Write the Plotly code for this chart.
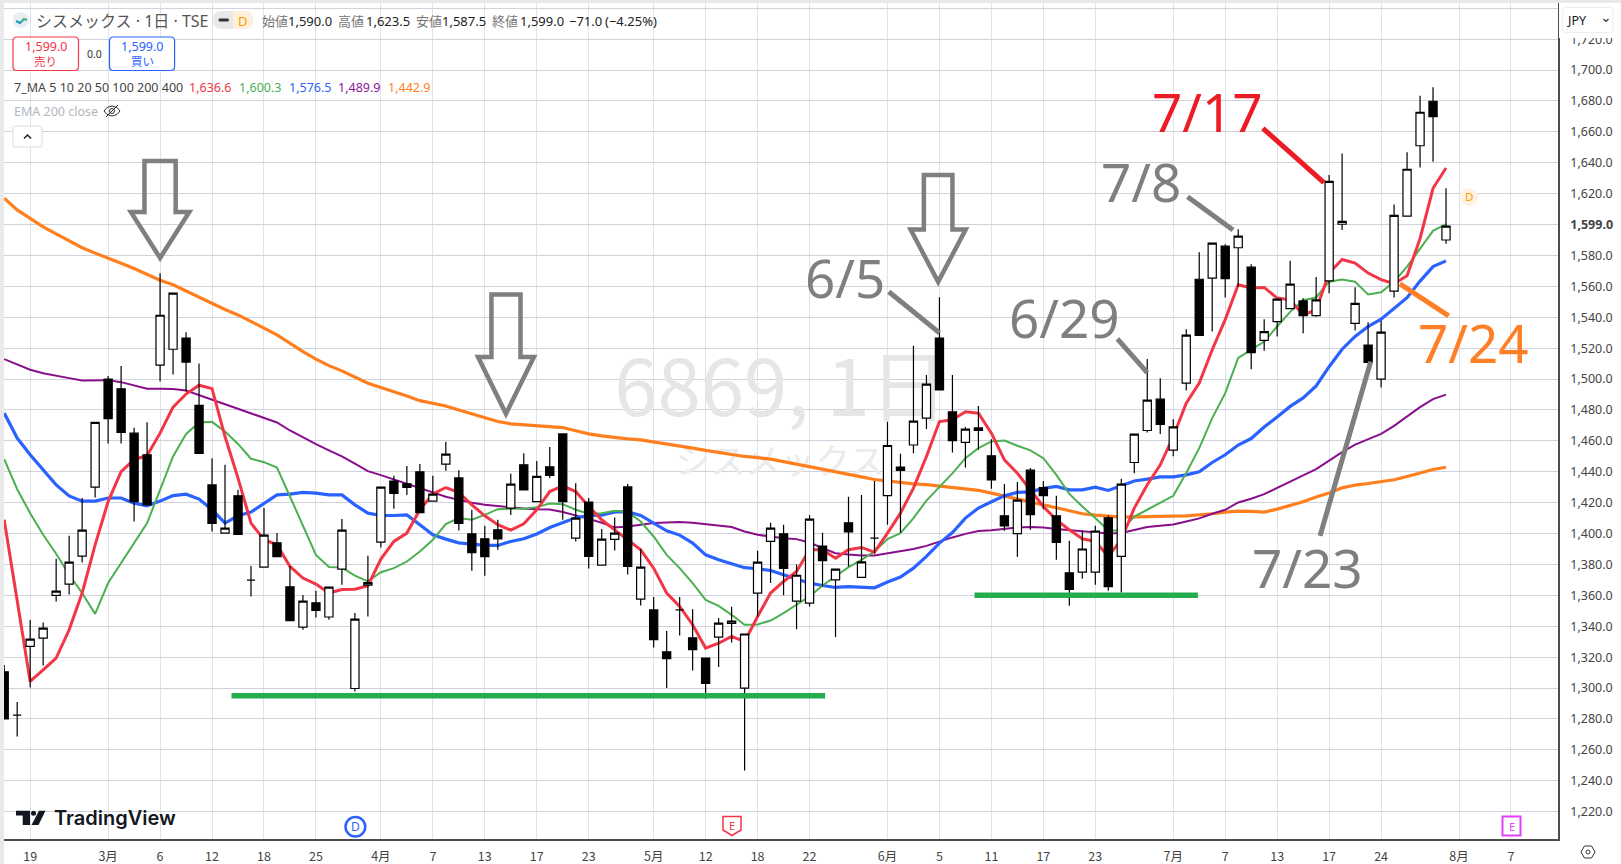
# %%
import plotly.graph_objects as go

# ---- data (one entry per trading day) ----
opens = [1310.5, 1282.5, 1327, 1332.3, 1360, 1367.3, 1385.4, 1430, 1500, 1493.7, 1465, 1451, 1509, 1519.3, 1526.5, 1483,
         1431.5, 1400.3, 1424.4, 1369.9, 1378.3, 1394, 1365.5, 1339.5, 1355.2, 1346, 1377, 1299.7, 1366.6, 1394.5, 1434, 1432.2,
         1440, 1421, 1445, 1436, 1399.8, 1396.6, 1402.4, 1416.4, 1444.5, 1420.7, 1443.2, 1464.5, 1397, 1420.4, 1379.6, 1396.2,
         1430.2, 1357.6, 1350.6, 1323.5, 1350.6, 1332.5, 1319.4, 1333, 1341.8, 1300, 1361.5, 1395, 1399.8, 1356.3, 1355, 1391.9,
         1370, 1407, 1371.6, 1397, 1424.6, 1443, 1457.3, 1474.7, 1526.5, 1478.8, 1459, 1468.4, 1450.3, 1411.5, 1400, 1441,
         1429.8, 1411.5, 1374.6, 1375, 1375, 1410.2, 1385.2, 1446, 1466.7, 1487, 1454, 1497.3, 1564.6, 1565.3, 1586, 1585,
         1572.4, 1525, 1537.2, 1545.6, 1550.6, 1541, 1563.6, 1600.2, 1536, 1522, 1500, 1556.9, 1605.4, 1651, 1679.8, 1590]
highs = [1315, 1291, 1344, 1342.5, 1383.7, 1398.5, 1423, 1472, 1502, 1508.5, 1468.5, 1472, 1568.5, 1556, 1530.3, 1510,
         1448.8, 1444.5, 1428.3, 1379, 1416.5, 1400.3, 1379, 1360.3, 1363, 1365.5, 1409.5, 1348.5, 1385.6, 1430, 1437.4, 1443.8,
         1445, 1437.4, 1459.4, 1441, 1415.4, 1405, 1409, 1438.7, 1452, 1447, 1456, 1465, 1432.6, 1423, 1402.9, 1410.4,
         1432, 1390, 1359, 1337, 1359, 1351, 1319.4, 1345.3, 1352.6, 1335, 1388.8, 1407, 1405.7, 1380, 1412, 1400.5,
         1377, 1423.8, 1425, 1434, 1472.3, 1451.6, 1521.5, 1502.7, 1553, 1502.7, 1469, 1482.6, 1461, 1432, 1433.3, 1442.4,
         1434, 1424.4, 1395.4, 1402, 1405, 1411.7, 1435.4, 1464.3, 1513, 1500.6, 1474, 1532.3, 1582, 1588, 1587.3, 1597,
         1574.3, 1538.7, 1551.7, 1576.5, 1552.3, 1566, 1632, 1646, 1559.5, 1536.8, 1537.7, 1613, 1646.8, 1683.3, 1688.9, 1623.5]
lows = [1280, 1268.7, 1300.4, 1314.6, 1356, 1360.6, 1381.3, 1423.3, 1458.3, 1458.3, 1407.8, 1418.6, 1498.4, 1503, 1492, 1451.8,
        1401.3, 1400.3, 1399.4, 1359.3, 1378.3, 1385, 1343.7, 1337.7, 1345.7, 1344.2, 1366.8, 1297.8, 1346.3, 1391, 1416, 1425,
        1413.6, 1421, 1440.6, 1402, 1376, 1372.7, 1389.5, 1412, 1428.3, 1420.7, 1435.9, 1408.9, 1394.9, 1377.4, 1379.6, 1389,
        1373.5, 1353.4, 1326.3, 1300, 1334, 1311.4, 1293, 1313.6, 1329.5, 1246.7, 1346.3, 1368, 1360, 1338, 1352.8, 1365.7,
        1333, 1378.7, 1371.6, 1387.3, 1405.7, 1400.5, 1452, 1467.6, 1493, 1452.5, 1442.7, 1454.2, 1429, 1401.8, 1385, 1402.4,
        1415.8, 1383, 1353.3, 1370.7, 1366.8, 1363, 1361.9, 1439, 1465.4, 1464.5, 1450, 1492.6, 1528.2, 1530.7, 1552.8, 1559.8,
        1506.4, 1518.4, 1527.5, 1545.6, 1529.7, 1540.4, 1555.6, 1596.5, 1531.4, 1510.7, 1494.5, 1552.8, 1605.4, 1636.9, 1640.7, 1587.5]
closes = [1280, 1282.5, 1331.7, 1338.8, 1362.8, 1381.5, 1402.2, 1472, 1474.4, 1465.4, 1420.7, 1418.6, 1541.3, 1555.6, 1511, 1451.8,
          1406.5, 1403.5, 1399.4, 1369.9, 1399, 1385, 1343.7, 1356.3, 1350.2, 1365.3, 1402.2, 1344.6, 1368.3, 1430, 1426, 1429.8,
          1413.6, 1425.5, 1451.4, 1406.5, 1387.7, 1385, 1396.6, 1432, 1428.3, 1437, 1437.6, 1420.7, 1410, 1385.2, 1396.4, 1400.3,
          1378.7, 1378.3, 1331.4, 1319, 1350.6, 1324.8, 1303, 1342, 1343.4, 1335, 1381.5, 1403.5, 1377.4, 1373, 1409.4, 1382.5,
          1377, 1401, 1381.7, 1397, 1457, 1440.8, 1472.8, 1496.7, 1493, 1460.2, 1467.6, 1466.7, 1434.8, 1405, 1421.6, 1412.3,
          1424.6, 1394.2, 1363.8, 1390, 1401.6, 1365.7, 1432, 1464.3, 1486.3, 1470.6, 1469, 1528.4, 1528.2, 1588, 1565, 1592.5,
          1517.1, 1530.7, 1551.7, 1561.4, 1541, 1551.2, 1628, 1602, 1549, 1510.7, 1530.4, 1606, 1635.8, 1672.7, 1669.9, 1599]

ma_red = [1409, 1357, 1304.3, 1311.8, 1319.4, 1337.7, 1361.5, 1392.7, 1420.7, 1440, 1447.8, 1450.5, 1465, 1481.8, 1490.3, 1496,
          1493.8, 1462.8, 1435.9, 1406.8, 1396, 1392.7, 1378.7, 1371.2, 1367.3, 1361.5, 1363.8, 1364, 1366.2, 1383.5, 1394.9, 1400.3,
          1415.4, 1425.7, 1429.8, 1426.6, 1418.6, 1411.5, 1405.7, 1402.2, 1406.3, 1415.4, 1427.2, 1430.9, 1427.2, 1417.5, 1408.9, 1402.4,
          1396, 1389.5, 1377.6, 1361.5, 1352.8, 1341, 1325.9, 1329, 1333.4, 1330, 1346.3, 1361.5, 1369, 1375.4, 1389.5, 1389.5,
          1384, 1389.5, 1391, 1388, 1400.3, 1413.2, 1429.4, 1449.9, 1472.5, 1473.6, 1478.8, 1477.9, 1465, 1447.7, 1439, 1428.3,
          1417.5, 1408.9, 1402.4, 1396.6, 1394.9, 1385.2, 1396, 1416.5, 1431.6, 1444.5, 1462.8, 1484.4, 1497.4, 1519, 1538.5, 1561,
          1559, 1559.3, 1552.4, 1551.3, 1541.5, 1544.8, 1568.6, 1577.4, 1575, 1568.6, 1564.3, 1561.7, 1566.8, 1591, 1623.5, 1636.6]
ma_green = [1448.2, 1428.7, 1413.2, 1399.2, 1386.9, 1373.3, 1361.5, 1348, 1368, 1380.9, 1393.8, 1406.8, 1428.3, 1449.9, 1464.5, 1471.9,
            1472.3, 1466, 1458, 1448.4, 1446.2, 1442.7, 1424, 1404.6, 1386.2, 1378.3, 1378, 1372.8, 1369, 1375, 1377.6, 1381.9,
            1388.4, 1396, 1406.1, 1410, 1408.9, 1412.1, 1415.8, 1416, 1416, 1417.1, 1419.4, 1419, 1415.4, 1412.8, 1413.2, 1414.7,
            1414, 1407.8, 1398.1, 1386.2, 1377.6, 1367.9, 1357.1, 1353.2, 1347.4, 1341, 1341.2, 1343.7, 1348.5, 1353.9, 1359.3, 1366.4,
            1372.2, 1378.3, 1383, 1388.4, 1396.4, 1400.3, 1410, 1421.3, 1430.2, 1438.9, 1448.8, 1455.3, 1459.6, 1460.2, 1456.8, 1453.8,
            1448.8, 1438, 1425.7, 1417.5, 1410, 1402, 1402, 1411, 1415.4, 1420.1, 1424.4, 1439.2, 1455.3, 1474.7, 1490.9, 1513.7,
            1519, 1524.3, 1534, 1543.5, 1551, 1552.8, 1563, 1564.5, 1563, 1554.7, 1556.2, 1563, 1572.8, 1584.7, 1595.9, 1600.3]
ma_blue = [1478, 1461.8, 1451, 1441.3, 1431.5, 1424.4, 1421, 1421, 1423, 1423, 1419.7, 1418, 1421, 1424.6, 1425.5, 1422.3,
           1415.4, 1406.8, 1411.5, 1413.9, 1419.7, 1425, 1425.5, 1426.6, 1426.2, 1425, 1425, 1418.6, 1413.2, 1411.7, 1411.7, 1412.1,
           1405.7, 1399.2, 1396.4, 1394, 1393.2, 1392.3, 1392.3, 1394.9, 1396.6, 1399.7, 1403.9, 1407.2, 1410.2, 1411.7, 1411.9, 1414,
           1414, 1411.7, 1406.8, 1401.8, 1399, 1393.8, 1386.2, 1383, 1380.4, 1377.9, 1377.2, 1376.1, 1373.3, 1370.5, 1367.9, 1366.4,
           1365.1, 1365.7, 1365.1, 1364.9, 1368.6, 1371.8, 1377.6, 1385.2, 1393.8, 1400.7, 1410, 1416.5, 1420.6, 1424.4, 1426.6, 1427,
           1429.2, 1430.5, 1428.3, 1428.3, 1430, 1427.9, 1431, 1434, 1435.2, 1436.7, 1436.7, 1438, 1440, 1446, 1451, 1457.3,
           1461.5, 1469, 1475.4, 1482.3, 1487.8, 1495.6, 1508, 1519.3, 1527.6, 1534, 1538.7, 1545.6, 1552.7, 1563.4, 1572.8, 1576.5]
ma_purple = [1512.9, 1509.3, 1506, 1503.8, 1502, 1500.6, 1499, 1499, 1499.3, 1498, 1496, 1493.8, 1493.7, 1493.5, 1492.6, 1489.6,
             1486.5, 1484, 1481, 1477.5, 1474.7, 1471.9, 1466.7, 1462.1, 1457.9, 1453.8, 1449.9, 1445.2, 1440.4, 1437.8, 1435, 1432.2,
             1429.2, 1426.4, 1423.8, 1421.8, 1419.9, 1418.6, 1417.8, 1416.9, 1416.2, 1415.8, 1415.6, 1413.9, 1411.9, 1409.5, 1407, 1403.9,
             1404.6, 1405.9, 1406.8, 1407.2, 1407.4, 1407, 1406, 1405.2, 1404.2, 1401.3, 1399.2, 1398.1, 1397, 1396.4, 1394.2, 1390.6,
             1387.3, 1386.4, 1385.8, 1385.8, 1387.3, 1388.6, 1390, 1392, 1394.9, 1397.5, 1399.8, 1401.6, 1402.2, 1403, 1403.9, 1404.2,
             1403.9, 1403, 1402.2, 1401.8, 1400.9, 1400, 1400.4, 1402.4, 1404.2, 1405, 1405.9, 1407.8, 1409.8, 1412.8, 1415.4, 1420.1,
             1422.5, 1425.5, 1429.4, 1433.7, 1437.6, 1441.7, 1447.3, 1452.7, 1457.6, 1461.1, 1464.5, 1469.7, 1475.7, 1481.8, 1487, 1489.9]
ma_orange = [1617, 1609.5, 1604, 1598.5, 1594, 1589.5, 1585, 1581.5, 1578.4, 1575, 1571.5, 1567.5, 1564, 1561, 1557, 1553,
             1548.6, 1545, 1541.5, 1537, 1533, 1528.6, 1523, 1517.8, 1512.9, 1508.7, 1505.3, 1501.2, 1497.3, 1494.5, 1492, 1489,
             1486, 1484.4, 1482.6, 1480, 1477.5, 1474.7, 1472.5, 1471, 1470.3, 1469.5, 1469.3, 1468.6, 1466.5, 1464.5, 1463.2, 1462,
             1461.3, 1460.6, 1459.4, 1458, 1456.8, 1455.3, 1453.8, 1452.4, 1451, 1449.9, 1449.2, 1448.2, 1446.6, 1445, 1443.6, 1441.9,
             1440.1, 1438.5, 1436.7, 1435, 1434, 1433, 1432.2, 1431.7, 1430.9, 1430, 1429, 1428, 1426.2, 1424.4, 1422.7, 1420.6,
             1418.6, 1416.7, 1415, 1412.8, 1411.9, 1411, 1410.6, 1410.8, 1410.8, 1411, 1411.3, 1411.5, 1412, 1412.8, 1413.9, 1414.5,
             1414.3, 1413.9, 1415.8, 1418.2, 1420.6, 1423.6, 1426.2, 1429.6, 1431.4, 1432.4, 1433.7, 1434.8, 1436.9, 1439.2, 1441.5, 1442.9]

x_tickvals = [2, 8, 12, 16, 20, 24, 29, 33, 37, 41, 45, 50, 54, 58, 62, 68, 72, 76, 80, 84, 90, 94, 98, 102, 106, 112, 116]
x_ticktext = ["19", "3月", "6", "12", "18", "25", "4月", "7", "13", "17", "23", "5月", "12", "18", "22",
              "6月", "5", "11", "17", "23", "7月", "7", "13", "17", "24", "8月", "7"]
y_tickvals = [1220, 1240, 1260, 1280, 1300, 1320, 1340, 1360, 1380, 1400, 1420, 1440, 1460, 1480, 1500,
              1520, 1540, 1560, 1580, 1600, 1620, 1640, 1660, 1680, 1700, 1720, 1740]
y_ticktext = ["1,220.0", "1,240.0", "1,260.0", "1,280.0", "1,300.0", "1,320.0", "1,340.0", "1,360.0", "1,380.0",
              "1,400.0", "1,420.0", "1,440.0", "1,460.0", "1,480.0", "1,500.0", "1,520.0", "1,540.0", "1,560.0",
              "1,580.0", "<b>1,599.0</b>", "1,620.0", "1,640.0", "1,660.0", "1,680.0", "1,700.0", "1,720.0", ""]

# hand drawn notes on the chart, as (bar, price) pairs
note_lines = [
    (96.9, 1662.3, 101.6, 1627.1, "#ed1c24"),
    (91.1, 1618, 94.6, 1596.5, "#7f7f7f"),
    (107.45, 1561.6, 111.2, 1540.9, "#ff7f27"),
    (101.3, 1398.5, 105.2, 1511.3, "#7f7f7f"),
    (85.7, 1526, 88, 1504.2, "#7f7f7f"),
    (68.1, 1556.5, 72, 1529.9, "#7f7f7f"),
]
support_lines = [(17.5, 63.2, 1295), (74.7, 91.9, 1360)]
note_texts = [
    (92.6, 1673, "7/17", "#ed1c24"),
    (87.5, 1627.6, "7/8", "#7f7f7f"),
    (113.1, 1523.4, "7/24", "#ff7f27"),
    (100.3, 1377.8, "7/23", "#7f7f7f"),
    (81.6, 1539.6, "6/29", "#7f7f7f"),
    (64.7, 1565.5, "6/5", "#7f7f7f"),
]
# centre bar, half shaft, half head, top price, shoulder price, tip price
down_arrows = [
    (12.0, 1.2, 2.25, 1641.1, 1608.2, 1578.4),
    (38.63, 1.12, 2.15, 1554.8, 1514.3, 1477.5),
    (71.9, 1.1, 2.12, 1632, 1596.8, 1562.9),
]

FONT = "Noto Sans, Noto Sans CJK JP, sans-serif"
JP = "Noto Sans CJK JP, Noto Sans, sans-serif"
W, H = 1621, 864
L, R, T, B = 4, 1558, 3, 839
x_range = [-0.015, 119.62]
y_range = [1202.3, 1743.4]
bars = list(range(len(closes)))


def px(x):
    return (x - L) / (R - L)


def py(y):
    return 1 - (y - T) / (B - T)


def label(x, y, text, size=13, color="#333333", anchor="left", family=FONT, weight=None):
    fig.add_annotation(xref="paper", yref="paper", x=px(x), y=py(y), text=text, showarrow=False,
                       xanchor=anchor, yanchor="middle", borderpad=0,
                       font=dict(size=size, color=color, family=family, weight=weight))


def box(x0, y0, x1, y1, line="rgba(0,0,0,0)", fill="rgba(0,0,0,0)", width=1, kind="rect"):
    fig.add_shape(type=kind, xref="paper", yref="paper", x0=px(x0), y0=py(y0), x1=px(x1), y1=py(y1),
                  line=dict(color=line, width=width), fillcolor=fill, layer="above")


def round_box(x0, y0, x1, y1, r=4, line="rgba(0,0,0,0)", fill="rgba(0,0,0,0)", width=1):
    def p(a, b):
        return f"{px(a):.5f},{py(b):.5f}"
    d = (f"M {p(x0 + r, y0)} L {p(x1 - r, y0)} Q {p(x1, y0)} {p(x1, y0 + r)} L {p(x1, y1 - r)} "
         f"Q {p(x1, y1)} {p(x1 - r, y1)} L {p(x0 + r, y1)} Q {p(x0, y1)} {p(x0, y1 - r)} "
         f"L {p(x0, y0 + r)} Q {p(x0, y0)} {p(x0 + r, y0)} Z")
    fig.add_shape(type="path", xref="paper", yref="paper", path=d,
                  line=dict(color=line, width=width), fillcolor=fill, layer="above")


def poly(points, line="rgba(0,0,0,0)", fill="rgba(0,0,0,0)", width=1, close=True):
    d = "M " + " L ".join(f"{px(a):.5f},{py(b):.5f}" for a, b in points) + (" Z" if close else "")
    fig.add_shape(type="path", xref="paper", yref="paper", path=d,
                  line=dict(color=line, width=width), fillcolor=fill, layer="above")


fig = go.Figure()

# watermark goes first so everything sits on top of it
fig.add_trace(go.Scatter(x=[59.8], y=[1489], mode="text", text=["6869,\u00a01日"], hoverinfo="skip",
                         textfont=dict(size=78, color="#e6e6e6", family=JP)))
fig.add_trace(go.Scatter(x=[59.7], y=[1444.5], mode="text", text=["シスメックス"], hoverinfo="skip",
                         textfont=dict(size=35, color="#ebebeb", family=JP)))

for vals, col, wid in [(ma_orange, "#ff7f1e", 3.2), (ma_purple, "#880e8a", 2), (ma_blue, "#2962ff", 3.2),
                       (ma_green, "#4caf50", 2), (ma_red, "#f23645", 3)]:
    fig.add_trace(go.Scatter(x=bars, y=vals, mode="lines", line=dict(color=col, width=wid), hoverinfo="skip"))

# on its own overlaying axis so the candles cover the moving averages
fig.add_trace(go.Candlestick(x=bars, open=opens, high=highs, low=lows, close=closes, yaxis="y2",
                             whiskerwidth=0,
                             increasing=dict(line=dict(color="#000000", width=1.2), fillcolor="#ffffff"),
                             decreasing=dict(line=dict(color="#000000", width=1.2), fillcolor="#000000")))

fig.update_layout(
    width=W, height=H, showlegend=False, paper_bgcolor="#ffffff", plot_bgcolor="#ffffff",
    margin=dict(l=L, r=W - R, t=T, b=H - B, autoexpand=False),
    font=dict(family=FONT, size=12, color="#444444"),
    boxgap=0.1,
    xaxis=dict(range=x_range, tickmode="array", tickvals=x_tickvals, ticktext=x_ticktext, showgrid=True,
               gridcolor="#e0e2e9", gridwidth=1, zeroline=False, showline=True, linecolor="#4d4d4d", linewidth=1.5,
               ticks="", ticklabelstandoff=5, tickfont=dict(size=12.5, color="#444444", family=JP),
               rangeslider=dict(visible=False), fixedrange=True),
    yaxis=dict(range=y_range, side="right", tickmode="array", tickvals=y_tickvals, ticktext=y_ticktext,
               showgrid=True, gridcolor="#d0d2de", gridwidth=1.2, zeroline=False, showline=True,
               linecolor="#4d4d4d", linewidth=1.5, ticks="", ticklabelstandoff=8,
               tickfont=dict(size=12.5, color="#444444"), fixedrange=True),
    yaxis2=dict(range=y_range, overlaying="y", side="right", visible=False, fixedrange=True),
)

# hand drawn lines
for x0, y0, x1, y1, col in note_lines:
    fig.add_shape(type="line", xref="x", yref="y", x0=x0, y0=y0, x1=x1, y1=y1, line=dict(color=col, width=5), layer="above")
for x0, x1, y0 in support_lines:
    fig.add_shape(type="line", xref="x", yref="y", x0=x0, y0=y0, x1=x1, y1=y0, line=dict(color="#22ad4e", width=5.5), layer="above")
for cx, hs, hh, top, sh, tip in down_arrows:
    pts = [(cx - hs, top), (cx + hs, top), (cx + hs, sh), (cx + hh, sh), (cx, tip), (cx - hh, sh), (cx - hs, sh)]
    fig.add_shape(type="path", xref="x", yref="y", layer="above", line=dict(color="#7f7f7f", width=4.5),
                  path="M " + " L ".join(f"{a},{b}" for a, b in pts) + " Z")
for x, y, txt, col in note_texts:
    fig.add_annotation(xref="x", yref="y", x=x, y=y, text=txt, showarrow=False, xanchor="center", yanchor="middle",
                       font=dict(size=53, color=col, family=FONT))

# window frame
box(0, 0, 4, H, fill="#e9e9e9")
box(0, 0, W, 3, fill="#e9e9e9")

# title row
box(13, 12, 29, 28, fill="#e9eef4", kind="circle")
poly([(16, 21), (20, 23), (23, 20)], line="#2196c8", width=2, close=False)
poly([(21, 22), (24, 19), (27, 20)], line="#3fb58a", width=2, close=False)
label(35, 20.5, "シスメックス · 1日 · TSE", size=16, color="#555555", family=FONT)
round_box(213, 11, 253, 29, r=9, fill="#e8e8e8")
round_box(233, 11, 253, 29, r=9, fill="#fff0dc")
box(233, 11, 240, 29, fill="#fff0dc")
round_box(218.5, 18.5, 229, 21.5, r=1.5, fill="#333333")
label(243, 20.5, "D", size=13, color="#ff9800", anchor="center")
for x, name, x2, val in [(261, "始値", 287, "1,590.0"), (337, "高値", 365, "1,623.5"),
                         (415, "安値", 441, "1,587.5"), (491, "終値", 519, "1,599.0")]:
    label(x, 20.5, name, color="#777777", family=JP)
    label(x2, 20.5, val, color="#222222")
label(568, 20.5, "−71.0", color="#222222")
label(604, 20.5, "(−4.25%)", color="#222222")

# buy / sell buttons
round_box(13, 37, 78.5, 70.5, line="#f23645", fill="#ffffff", width=1.2)
label(45.7, 47, "1,599.0", size=12.5, color="#f23645", anchor="center")
label(45.7, 61, "売り", size=11.5, color="#f23645", anchor="center", family=JP)
label(94, 53.5, "0.0", size=10.5, color="#333333", anchor="center")
round_box(109.5, 37, 174.6, 70.5, line="#2962ff", fill="#ffffff", width=1.2)
label(142, 47, "1,599.0", size=12.5, color="#2962ff", anchor="center")
label(142, 61, "買い", size=11.5, color="#2962ff", anchor="center", family=JP)

# indicator rows
label(13, 87.5, "7_MA 5 10 20 50 100 200 400", size=12.5, color="#444444")
for x, txt, col in [(188, "1,636.6", "#f23645"), (238, "1,600.3", "#4caf50"), (288, "1,576.5", "#2962ff"),
                    (337, "1,489.9", "#8e1599"), (387, "1,442.9", "#ff7f1e")]:
    label(x, 87.5, txt, size=12.5, color=col)
label(13, 111.5, "EMA 200 close", size=12.5, color="#b2b5be")
poly([(104, 111), (107, 107.5), (112, 106), (117, 107.5), (120, 111), (117, 114.5), (112, 116), (107, 114.5)], line="#333333")
box(109.5, 108.5, 114.5, 113.5, line="#333333", kind="circle")
poly([(106, 117), (118, 105)], line="#333333", close=False)
round_box(13, 126, 42, 147, r=2, line="#dddddd", fill="#ffffff")
poly([(24, 138.5), (27.5, 135), (31, 138.5)], line="#222222", width=1.5, close=False)

# currency box hides the top of the price labels
box(1559, 3, W, 38, fill="#ffffff")
round_box(1562.5, 7.5, 1613, 32.5, r=4, line="#eeeeee", fill="#ffffff")
label(1565.5, 20, "JPY", size=12.5, color="#131722")
poly([(1603.5, 19), (1606, 21.5), (1608.5, 19)], line="#333333", width=1.2, close=False)

# logo
poly([(16, 810.7), (30, 810.7), (30, 825), (22.7, 825), (22.7, 815.5), (16, 815.5)], fill="#131722")
box(31, 810.7, 36, 815.7, fill="#131722", kind="circle")
poly([(39, 810.7), (45.5, 810.7), (38.5, 825), (31.5, 825)], fill="#131722")
label(52.5, 818, "TradingView", size=20, color="#131722", family="Inter, sans-serif", weight=600)

# event markers
box(345.5, 817, 365.3, 836.5, line="#2962ff", fill="#ffffff", width=2.5, kind="circle")
label(355.4, 826.7, "D", size=12, color="#2962ff", anchor="center")
poly([(723, 816.5), (741, 816.5), (741, 830), (732, 835.5), (723, 830)], line="#f23645", fill="#ffffff", width=1.5)
label(732, 825, "E", size=11, color="#f23645", anchor="center")
box(1502.5, 816.5, 1520.5, 835.5, line="#e040fb", fill="#ffffff", width=2)
label(1511.5, 826, "E", size=11, color="#e040fb", anchor="center")
box(1460, 188, 1478, 206, fill="#fff3e0", kind="circle")
label(1469, 197, "D", size=11.5, color="#ff9800", anchor="center")

# settings icon
poly([(1581, 852), (1584.5, 846), (1591.5, 846), (1595, 852), (1591.5, 858), (1584.5, 858)], line="#333333")
box(1586, 850, 1590, 854, line="#333333", kind="circle")

fig.write_html("out.html", config={"displayModeBar": False},
               post_script="document.body.style.margin='0';document.body.style.overflow='hidden';")
